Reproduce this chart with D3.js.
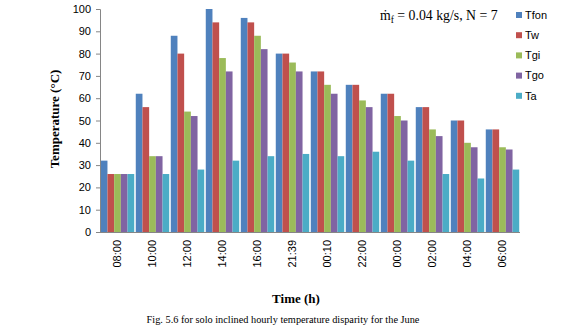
<!DOCTYPE html>
<html>
<head>
<meta charset="utf-8">
<script src="https://cdn.jsdelivr.net/npm/d3@7"></script>
<style>
body{margin:0;background:#fff;}
svg{display:block;}
</style>
</head>
<body>
<svg id="chart" width="564" height="332"></svg>
<script>
const categories = ["08:00","10:00","12:00","14:00","16:00","21:39","00:10","22:00","00:00","02:00","04:00","06:00"];
const seriesNames = ["Tfon","Tw","Tgi","Tgo","Ta"];
const Tfon = [32,62,88,100,96,80,72,66,62,56,50,46];
const Tw   = [26,56,80,94,94,80,72,66,62,56,50,46];
const Tgi  = [26,34,54,78,88,76,66,59,52,46,40,38];
const Tgo  = [26,34,52,72,82,72,62,56,50,43,38,37];
const Ta   = [26,26,28,32,34,35,34,36,32,26,24,28];
const yTicks = [0,10,20,30,40,50,60,70,80,90,100];
const colors = ["#4F81BD","#C0504D","#9BBB59","#8064A2","#4BACC6"];
const seriesValues = [Tfon,Tw,Tgi,Tgo,Ta];

const svg = d3.select("#chart");
const mLeft = 100, mRight = 520, mTop = 9, mBottom = 232;

const x = d3.scaleBand().domain(categories).range([mLeft,mRight]).paddingInner(0).paddingOuter(0);
const x1 = d3.scaleBand().domain(seriesNames).range([0,x.bandwidth()]).paddingOuter(0.115).paddingInner(0);
const y = d3.scaleLinear().domain([0,100]).range([mBottom,mTop]);

const data = categories.map((c,i)=>({cat:c, vals: seriesNames.map((s,j)=>({s, v: seriesValues[j][i], c: colors[j]}))}));

const g = svg.append("g");
g.selectAll("g.grp").data(data).enter().append("g")
  .attr("transform", d=>`translate(${x(d.cat)},0)`)
  .selectAll("rect").data(d=>d.vals).enter().append("rect")
  .attr("x", d=>x1(d.s))
  .attr("width", x1.bandwidth())
  .attr("y", d=>y(d.v))
  .attr("height", d=>mBottom - y(d.v))
  .attr("fill", d=>d.c);

// Y axis
const yAxis = svg.append("g").attr("transform",`translate(${mLeft},0)`)
  .call(d3.axisLeft(y).tickValues(yTicks).tickSize(4).tickPadding(5));
yAxis.select(".domain").attr("stroke","#868686");
yAxis.selectAll(".tick line").attr("stroke","#868686");
yAxis.selectAll("text").attr("font-family","'Liberation Sans', Arial, sans-serif").attr("font-size","11px").attr("fill","#000");

// X axis
const xAxis = svg.append("g").attr("transform",`translate(0,${mBottom})`)
  .call(d3.axisBottom(x).tickSize(0).tickPadding(0));
xAxis.select(".domain").attr("stroke","#868686").attr("d",`M${mLeft},0.5H${mRight}`);
xAxis.selectAll("text")
  .attr("font-family","'Liberation Sans', Arial, sans-serif").attr("font-size","11px").attr("fill","#000")
  .attr("transform","rotate(-90)")
  .attr("text-anchor","end")
  .attr("x",-8).attr("y",0).attr("dy","0.35em");

// Y title
svg.append("text")
  .attr("transform","translate(59,119) rotate(-90)")
  .attr("text-anchor","middle")
  .attr("font-family","'Liberation Serif', 'Times New Roman', serif")
  .attr("font-weight","bold").attr("font-size","13px")
  .text("Temperature (°C)");

// X title
svg.append("text")
  .attr("x",296).attr("y",303)
  .attr("text-anchor","middle")
  .attr("font-family","'Liberation Serif', 'Times New Roman', serif")
  .attr("font-weight","bold").attr("font-size","13px")
  .text("Time (h)");

// Caption
svg.append("text")
  .attr("x",283).attr("y",323)
  .attr("text-anchor","middle")
  .attr("font-family","'Liberation Serif', 'Times New Roman', serif")
  .attr("font-size","10.3px")
  .text("Fig. 5.6 for solo inclined hourly temperature disparity for the June");

// Annotation
const ann = svg.append("text")
  .attr("x",380).attr("y",20)
  .attr("font-family","'Liberation Serif', 'Times New Roman', serif")
  .attr("font-size","13.8px");
ann.append("tspan").text("ṁ");
ann.append("tspan").attr("font-size","9.5px").attr("dy","3").text("f");
ann.append("tspan").attr("dy","-3").text(" = 0.04 kg/s, N = 7");

// Legend
const leg = svg.append("g");
seriesNames.forEach((s,i)=>{
  const yy = 15 + i*20.2;
  leg.append("rect").attr("x",516).attr("y",yy-3).attr("width",6).attr("height",6).attr("fill",colors[i]);
  leg.append("text").attr("x",525).attr("y",yy).attr("dy","0.35em")
    .attr("font-family","'Liberation Sans', Arial, sans-serif").attr("font-size","11px").text(s);
});
</script>
</body>
</html>
